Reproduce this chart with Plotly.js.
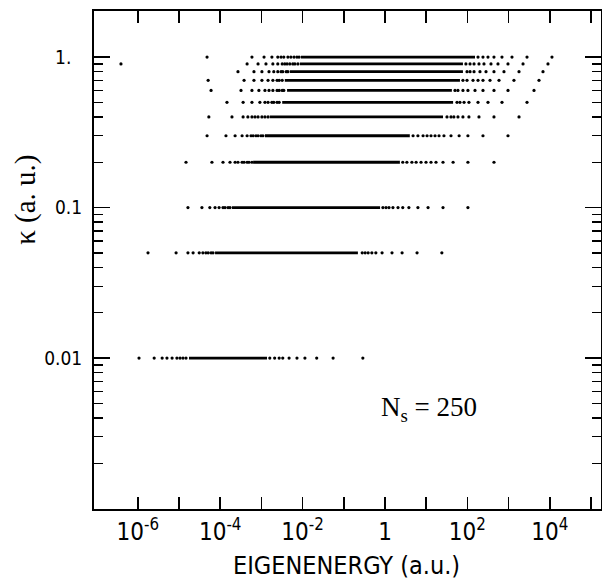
<!DOCTYPE html>
<html>
<head>
<meta charset="utf-8">
<script src="https://cdn.plot.ly/plotly-3.0.1.min.js"></script>
<style>html,body{margin:0;padding:0;background:#fff;}#chart{width:602px;height:582px;}</style>
</head>
<body>
<div id="chart"></div>
<script>
// ---- data (eigenenergies in a.u.) ----
const kappa = [1.0, 0.9, 0.8, 0.7, 0.6, 0.5, 0.4, 0.3, 0.2, 0.1, 0.05, 0.01];

// isolated eigenvalues below the dense band
const sparseLow = [
  [4.8e-5, 5.9e-4, 1.16e-3, 1.8e-3, 2.5e-3, 3.0e-3, 3.5e-3, 4.4e-3, 5.2e-3, 6.2e-3, 7.3e-3, 8.2e-3],
  [4.5e-4, 8.3e-4, 1.29e-3, 1.9e-3, 2.5e-3, 3.2e-3, 3.7e-3, 4.2e-3, 4.9e-3, 5.8e-3, 6.5e-3, 7.7e-3],
  [2.7e-4, 6.6e-4, 1.03e-3, 1.53e-3, 2.0e-3, 2.5e-3, 3.0e-3, 3.3e-3, 4.0e-3, 4.4e-3],
  [5.1e-5, 3.8e-4, 6.6e-4, 1.03e-3, 1.45e-3, 1.9e-3, 2.4e-3, 2.7e-3, 3.2e-3],
  [6.0e-5, 3.2e-4, 5.9e-4, 8.7e-4, 1.22e-3, 1.53e-3, 1.9e-3, 2.4e-3, 2.7e-3, 3.2e-3, 3.5e-3],
  [1.46e-4, 3.6e-4, 5.9e-4, 9.2e-4, 1.22e-3, 1.45e-3, 1.8e-3, 2.0e-3, 2.4e-3, 2.7e-3],
  [5.3e-5, 1.93e-4, 3.6e-4, 4.7e-4, 5.9e-4, 7.0e-4, 8.3e-4, 1.03e-3, 1.22e-3, 1.45e-3],
  [4.8e-5, 1.38e-4, 2.3e-4, 3.4e-4, 4.5e-4, 5.6e-4, 6.3e-4, 7.4e-4, 8.3e-4, 9.8e-4, 1.09e-3],
  [1.48e-5, 6.3e-5, 1.17e-4, 1.73e-4, 2.3e-4, 2.7e-4, 3.4e-4, 3.8e-4, 4.5e-4, 5.0e-4, 5.9e-4],
  [1.65e-5, 3.6e-5, 5.6e-5, 7.5e-5, 9.4e-5, 1.17e-4, 1.31e-4, 1.55e-4, 1.73e-4],
  [1.77e-6, 8.5e-6, 1.65e-5, 2.2e-5, 3.1e-5, 3.8e-5, 4.5e-5, 5.1e-5, 6.0e-5, 6.7e-5],
  [1.07e-6, 2.5e-6, 3.9e-6, 5.1e-6, 6.8e-6, 8.9e-6, 1.06e-5, 1.25e-5, 1.48e-5]
];

// dense band of closely spaced eigenvalues (lowest / highest)
const bandLow  = [9.1e-3, 8.6e-3, 4.9e-3, 3.7e-3, 4.2e-3, 3.2e-3, 1.6e-3, 1.22e-3, 6.3e-4, 1.93e-4, 7.5e-5, 1.75e-5];
const bandHigh = [153, 78, 78, 66, 42, 45, 25.6, 4.0, 2.3, 0.76, 0.22, 1.37e-3];

// isolated eigenvalues above the dense band
const sparseHigh = [
  [181, 239, 316, 442, 691, 1210, 2800, 11300],
  [92, 116, 145, 191, 253, 374, 553, 967, 2240, 9040],
  [98, 116, 145, 202, 283, 442, 773, 1790, 6840],
  [78, 98, 137, 181, 239, 354, 585, 1350, 5470],
  [50, 59, 78, 103, 153, 239, 442, 967, 4140],
  [56, 66, 83, 109, 181, 316, 691, 2800],
  [32, 40, 47, 59, 78, 109, 191, 442, 1790],
  [4.8, 6.3, 8.4, 10.5, 13.1, 16.4, 20.5, 27, 40, 63, 103, 239, 967],
  [2.7, 3.4, 4.5, 5.7, 7.5, 9.9, 13.1, 17.3, 25.6, 45, 103, 442],
  [0.89, 1.06, 1.25, 1.56, 2.07, 2.7, 3.8, 6.3, 11.1, 25.6, 103],
  [0.28, 0.33, 0.39, 0.48, 0.60, 0.85, 1.48, 2.6, 6.0, 24],
  [1.6e-3, 2.1e-3, 2.7e-3, 3.3e-3, 4.7e-3, 7.3e-3, 1.14e-2, 2.2e-2, 5.5e-2, 0.29]
];

// one isolated low point
const strayE = [3.9e-7];
const strayK = [0.9];

// axis ticks
const xTickVals = [1e-6, 1e-5, 1e-4, 1e-3, 1e-2, 1e-1, 1, 10, 100, 1e3, 1e4, 1e5];
const xTickText = ['10<sup>-6</sup>', '', '10<sup>-4</sup>', '', '10<sup>-2</sup>', '', '1', '', '10<sup>2</sup>', '', '10<sup>4</sup>', ''];
const yTickVals = [0.01, 0.1, 1];
const yTickText = ['0.01', '0.1', '1.\u00a0\u00a0'];
const yMinorMant = [2, 3, 4, 5, 6, 7, 8, 9];
const yMinorDecades = [0.001, 0.01, 0.1];

// ---- build traces ----
const px = [], py = [];
kappa.forEach((k, i) => {
  sparseLow[i].forEach(e => { px.push(e); py.push(k); });
  sparseHigh[i].forEach(e => { px.push(e); py.push(k); });
});
strayE.forEach((e, i) => { px.push(e); py.push(strayK[i]); });

const bx = [], by = [];
kappa.forEach((k, i) => {
  bx.push(bandLow[i], bandHigh[i], null);
  by.push(k, k, null);
});

const yMinor = [];
yMinorDecades.forEach(d => yMinorMant.forEach(m => yMinor.push(m * d)));

const narrow = 'Liberation Sans Narrow, DejaVu Sans Condensed, Arial Narrow, sans-serif';
const serif = 'Liberation Serif, Times New Roman, serif';

const traces = [
  {x: bx, y: by, type: 'scatter', mode: 'lines',
   line: {color: '#000', width: 2.8}, hoverinfo: 'skip'},
  {x: px, y: py, type: 'scatter', mode: 'markers',
   marker: {color: '#000', size: 3.2, symbol: 'circle'}, hoverinfo: 'skip'}
];

const yRange = [-3.003, 0.306];

const layout = {
  width: 602, height: 582,
  margin: {l: 94, r: 1, t: 11, b: 73},
  paper_bgcolor: '#fff', plot_bgcolor: '#fff',
  showlegend: false,
  xaxis: {
    type: 'log', range: [-7.063, 5.243],
    tickmode: 'array', tickvals: xTickVals, ticktext: xTickText,
    ticks: 'inside', ticklen: 12, tickwidth: 1.6, tickcolor: '#000',
    showline: true, linecolor: '#000', linewidth: 2, mirror: 'ticks',
    showgrid: false, zeroline: false,
    tickfont: {family: narrow, size: 24, color: '#000'}
  },
  yaxis: {
    type: 'log', range: yRange,
    tickmode: 'array', tickvals: yTickVals, ticktext: yTickText,
    ticks: 'inside', ticklen: 16, tickwidth: 1.6, tickcolor: '#000',
    showline: true, linecolor: '#000', linewidth: 2, mirror: 'ticks',
    showgrid: false, zeroline: false,
    tickfont: {family: narrow, size: 19, color: '#000'},
    ticklabelstandoff: 6
  },
  yaxis2: {
    type: 'log', range: yRange, overlaying: 'y', side: 'left',
    tickmode: 'array', tickvals: yMinor,
    ticks: 'inside', ticklen: 9, tickwidth: 1.3, tickcolor: '#000',
    showticklabels: false, showline: false, mirror: 'ticks',
    showgrid: false, zeroline: false
  },
  annotations: [
    {text: 'κ (a. u.)', xref: 'paper', yref: 'paper', x: -0.135, y: 0.62,
     xanchor: 'center', yanchor: 'middle', textangle: -90, showarrow: false,
     font: {family: serif, size: 29, color: '#000'}},
    {text: 'EIGENENERGY (a.u.)', xref: 'paper', yref: 'paper', x: 0.498, y: -0.114,
     xanchor: 'center', yanchor: 'middle', showarrow: false,
     font: {family: narrow, size: 25, color: '#000'}},
    {text: 'N<sub>s</sub> = 250', xref: 'x', yref: 'y', x: 1.06, y: -2.34,
     xanchor: 'center', yanchor: 'middle', showarrow: false,
     font: {family: serif, size: 27, color: '#000'}}
  ]
};

// invisible trace anchoring the minor-tick axis
traces.push({x: [1], y: [1], yaxis: 'y2', type: 'scatter', mode: 'markers',
  marker: {opacity: 0}, hoverinfo: 'skip'});

Plotly.newPlot('chart', traces, layout, {staticPlot: true, displayModeBar: false});
</script>
</body>
</html>
